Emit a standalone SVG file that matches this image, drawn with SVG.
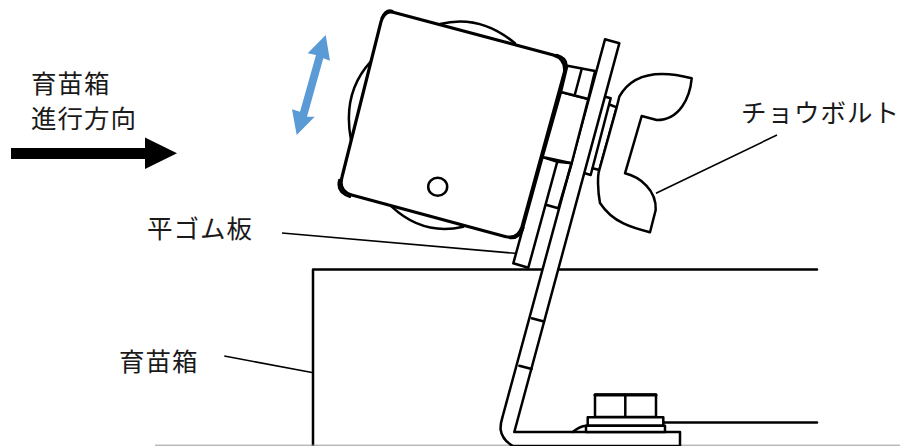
<svg xmlns="http://www.w3.org/2000/svg" width="901" height="446" viewBox="0 0 901 446">
<style>
.o{fill:#fff;stroke:#000;stroke-width:2.5;stroke-linejoin:round;stroke-linecap:round}
.n{fill:none;stroke:#000;stroke-width:2.5;stroke-linecap:round;stroke-linejoin:round}
.t{fill:#fff;stroke:#000;stroke-width:3.200;stroke-linejoin:round;stroke-linecap:round}
.l{fill:none;stroke:#000;stroke-width:1.600}
text{font-family:"Noto Sans CJK JP","Noto Sans",sans-serif;font-size:25.500px;letter-spacing:1px;fill:#1a1a1a}
</style>
<rect width="901" height="446" fill="#fff"/>
<g id="box">
<path class="n" d="M313,446V269.500H817"/>
<path class="n" d="M663,422.500H817"/>
<path d="M155,445.200H900" stroke="#999" stroke-width="1" fill="none"/>
</g>
<g id="bracket">
<path class="o" d="M605,39.300L619.300,43.300L514.300,432H680V446H513Q502,440 500.500,429Q500.500,423 502.500,417Z"/>
<path class="n" d="M531.700,318.300L544,321.500M519.300,365.700L531.700,369"/>
</g>
<g id="bolt">
<path class="n" d="M572.700,432Q580,426 586,425.700"/>
<rect class="o" x="595" y="394.500" width="61" height="22.500"/>
<path class="t" d="M595,395H656"/>
<path class="n" d="M625.300,395V417"/>
<rect class="o" x="587.700" y="417.300" width="75.600" height="8.400"/>
<rect class="o" x="586" y="425.700" width="79" height="6.400"/>
</g>
<g id="rubber">
<path class="o" d="M513.300,263.300L528.300,267.700L557.300,161.700L542.600,157Z"/>
<path class="o" d="M542.600,157L561,92L588.300,99L571.700,163.300Z"/>
<path class="o" d="M561,92L567.300,65.700L595,71L588.300,99Z"/>
<path class="n" d="M581.700,69L575,94"/>
<path class="n" d="M557.300,161.700L571.700,163.300L558.300,208.300L546.700,205"/>
</g>
<g id="wing-bolt">
<path class="n" d="M605.300,96.700L610.700,98.300L590.700,175L585,173.300"/>
<path class="n" d="M610.700,105L616.700,107.300L599.300,170L592.700,168.300"/>
<path class="o" d="M619.300,96.700C633,72 660,70 691.700,78.300C690,97 680,120 656.700,120L641.700,116L625,173.300C640,177 656.700,190 655.700,210L650,232.300C633,228 613,223 600,203C597.500,190 597.500,175 599.300,170L616.700,107.300Z"/>
<path class="l" d="M656,193.300L777,135"/>
</g>
<g id="roller">
<path class="n" d="M440,24Q480,14 515,43.300M370.700,61.700Q342,93 351,140M391.700,206.700Q423,236 463.300,226.700"/>
<path class="n" d="M381.700,18Q386,9 392,11M556.700,55Q567,58 566.500,66M339.300,180Q336,192 350,196.700M510,238Q520,239 523.300,228"/>
<path class="t" d="M395,12.700L553.300,55Q566,59 564.500,72L522,226.700Q518,240 505,236.500L351.700,195Q338,191 342,177L381,21.700Q385,9 395,12.700Z"/>
<ellipse cx="437.700" cy="186.700" rx="9.500" ry="9" class="n"/>
</g>
<g id="arrows">
<path fill="#5b9bd5" d="M325.700,35L330,60.700L323.300,58.300L307,116.700L314.700,116.700L296.700,135L292,109.300L300,111.700L316,55L307.700,53.300Z"/>
<path fill="#000" d="M11,148H145V137.500L177,153.300L145,169V159H11Z"/>
</g>
<g id="leaders">
<path class="l" d="M282,233L515,253.300M224.300,356L312,372.500"/>
</g>
<g id="labels">
<text x="31" y="93">育苗箱</text>
<text x="31" y="128">進行方向</text>
<text x="741" y="122">チョウボルト</text>
<text x="147" y="238">平ゴム板</text>
<text x="119" y="371">育苗箱</text>
</g>
</svg>
